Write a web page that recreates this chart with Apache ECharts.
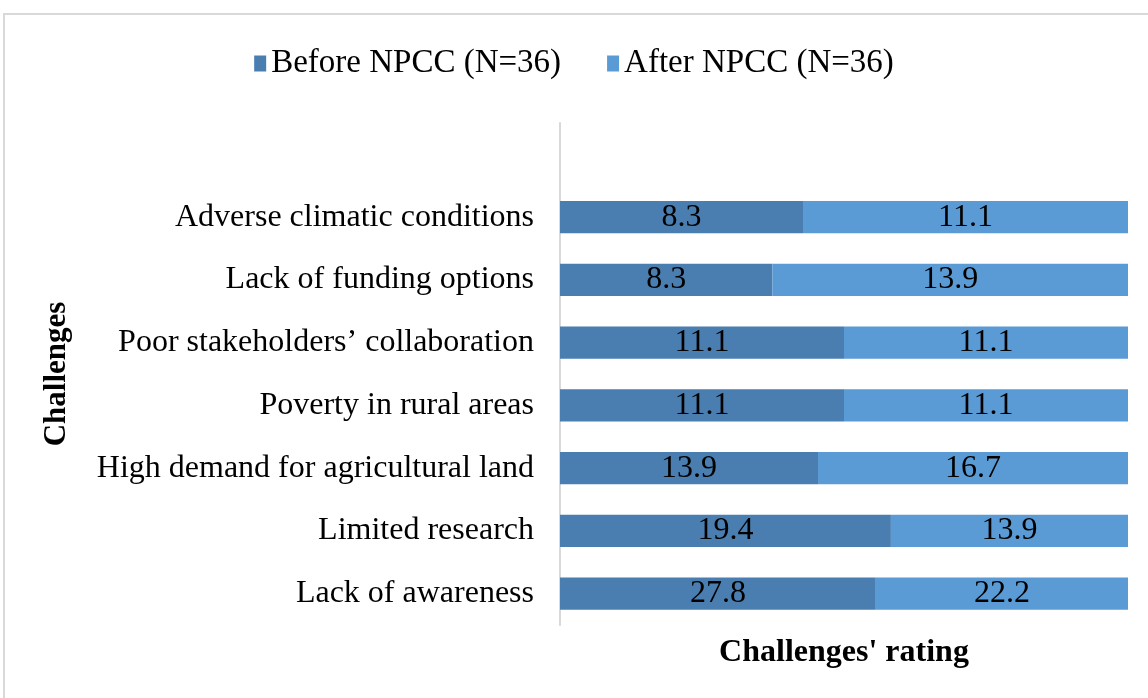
<!DOCTYPE html>
<html>
<head>
<meta charset="utf-8">
<script src="https://cdn.jsdelivr.net/npm/echarts@6/dist/echarts.min.js"></script>
<style>html,body{margin:0;padding:0;background:#fff}#c{width:1148px;height:698px}</style>
</head>
<body>
<div id="c"></div>
<script>
// bottom to top; last empty category leaves the blank band at the top
const categories = ['Lack of awareness','Limited research','High demand for agricultural land','Poverty in rural areas','Poor stakeholders\u2019 collaboration','Lack of funding options','Adverse climatic conditions',''];
const beforeValues = [27.8, 19.4, 13.9, 11.1, 11.1, 8.3, 8.3, null];
const afterValues = [22.2, 13.9, 16.7, 11.1, 11.1, 13.9, 11.1, null];
const seriesNames = ['Before NPCC (N=36)', 'After NPCC (N=36)'];

function share(vals, i) {
  const a = beforeValues[i], b = afterValues[i];
  if (a == null || b == null) return null;
  return { value: vals[i] / (a + b), raw: vals[i] };
}
const beforeData = categories.map((c, i) => share(beforeValues, i));
const afterData = categories.map((c, i) => share(afterValues, i));

const FONT = '"Liberation Serif", "Times New Roman", serif';
const chart = echarts.init(document.getElementById('c'));
const lbl = {
  show: true, position: 'inside', color: '#000', fontFamily: FONT, fontSize: 32,
  formatter: p => (p.data && p.data.raw != null) ? p.data.raw.toFixed(1) : ''
};
chart.setOption({
  animation: false,
  textStyle: { fontFamily: FONT },
  graphic: [{
    type: 'rect', shape: { x: 4, y: 14, width: 1160, height: 700 },
    style: { fill: 'none', stroke: '#d9d9d9', lineWidth: 2 }, silent: true
  }],
  legend: {
    top: 42, left: 'center', itemWidth: 12, itemHeight: 16, itemGap: 46,
    icon: 'rect',
    textStyle: { fontFamily: FONT, fontSize: 33, color: '#000' },
    data: seriesNames
  },
  grid: { left: 560, right: 20, top: 123, bottom: 73 },
  xAxis: {
    type: 'value', min: 0, max: 1,
    axisLine: { show: false }, axisTick: { show: false }, axisLabel: { show: false }, splitLine: { show: false },
    name: "Challenges' rating", nameLocation: 'middle', nameGap: 12,
    nameTextStyle: { fontFamily: FONT, fontSize: 32, fontWeight: 'bold', color: '#000' }
  },
  yAxis: {
    type: 'category', data: categories,
    axisLine: { show: true, lineStyle: { color: '#d9d9d9', width: 2 } },
    axisTick: { show: false },
    axisLabel: { margin: 26, fontFamily: FONT, fontSize: 32, color: '#000' },
    name: 'Challenges', nameLocation: 'middle', nameRotate: 90, nameGap: 488,
    nameTextStyle: { fontFamily: FONT, fontSize: 31, fontWeight: 'bold', color: '#000' }
  },
  series: [
    { name: seriesNames[0], type: 'bar', stack: 't', barWidth: '51%', data: beforeData,
      itemStyle: { color: '#4a7eb0' }, label: lbl },
    { name: seriesNames[1], type: 'bar', stack: 't', barWidth: '51%', data: afterData,
      itemStyle: { color: '#5b9bd5' }, label: lbl }
  ]
});
</script>
</body>
</html>
